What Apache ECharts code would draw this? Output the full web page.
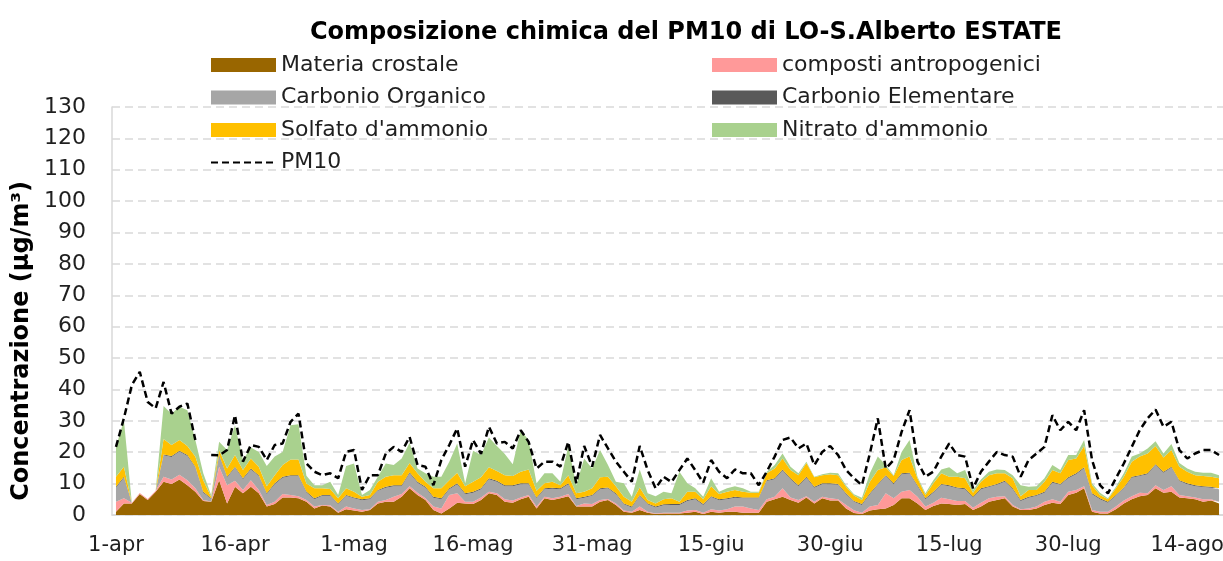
<!DOCTYPE html>
<html>
<head>
<meta charset="utf-8">
<script src="https://cdn.jsdelivr.net/npm/echarts@6/dist/echarts.min.js"></script>
<style>
  html, body { margin: 0; padding: 0; background: #fff; }
  #chart { width: 1223px; height: 561px; }
</style>
</head>
<body>
<div id="chart"></div>
<script>
// mesi e giorni per costruire le etichette giornaliere (1-apr ... 18-ago)
var monthNames = ['apr', 'mag', 'giu', 'lug', 'ago'];
var monthDays = [30, 31, 30, 31, 31];
var nDays = 140;

var crostale = [
  1, 3.7, 3.7, 6.7, 4.8, 7.4, 10.6, 9.9, 11.3, 9.5,
  7.4, 4.5, 4.2, 11.1, 3.7, 9, 6.9, 9, 6.9, 2.7,
  3.5, 5.6, 5.6, 5.3, 4.2, 2.1, 3, 2.7, 0.7, 1.8,
  1.4, 1, 1.6, 3.7, 4.2, 4.2, 5.8, 8.5, 6.4, 4.8,
  1.6, 0.5, 2.1, 3.9, 3.7, 3.5, 4.8, 6.9, 6.4, 4.2,
  3.9, 5, 5.8, 2.1, 5.3, 4.8, 5.3, 6, 2.7, 2.7,
  2.7, 4.2, 4.8, 3.2, 1, 0.7, 1.6, 0.7, 0.3, 0.5,
  0.5, 0.5, 0.7, 1, 0.3, 1, 0.7, 1, 1, 0.7,
  0.7, 0.7, 4.2, 5, 5.8, 4.8, 3.9, 5.6, 3.7, 5.3,
  4.6, 4.6, 2.1, 0.6, 0.3, 1.4, 1.8, 2.1, 3.2, 5.3,
  5.3, 3.7, 1.6, 2.9, 3.7, 3.5, 3.2, 3.5, 1.6, 2.7,
  4.2, 4.8, 5.3, 2.7, 1.6, 1.6, 2.1, 3.2, 3.9, 3.5,
  6.4, 7.1, 8.5, 1, 0.5, 0.5, 1.8, 3.7, 5, 6,
  6.4, 8.5, 7.1, 7.4, 5.6, 5.3, 5, 4.2, 4.6, 3.7
];
var antropogenici = [
  3.2, 1.6, 0.2, 0.3, 0.3, 0.3, 1.6, 1.4, 1.5, 1.6,
  1.1, 0.3, 0.1, 4.3, 5.8, 1.9, 1.1, 2.1, 1.1, 0.5,
  0.7, 1.1, 0.8, 0.7, 0.6, 0.6, 0.2, 0.4, 0.3, 0.9,
  0.7, 0.6, 0.2, 0.5, 0.6, 1.6, 0.9, 0.7, 0.7, 0.5,
  1.1, 1.6, 4.3, 3, 0.5, 0.7, 0.8, 0.5, 0.5, 0.8,
  0.7, 0.6, 0.6, 0.6, 0.5, 0.5, 0.5, 0.7, 0.2, 1,
  0.8, 0.6, 0.3, 0.5, 0.4, 0.3, 1.1, 0.3, 0.2, 0.2,
  0.2, 0.2, 0.7, 0.6, 0.4, 0.8, 0.7, 0.8, 1.7, 2,
  1.4, 0.9, 0.8, 0.8, 2.7, 0.8, 0.9, 0.4, 0.5, 0.5,
  0.7, 0.4, 1.1, 0.9, 0.4, 1.3, 1.4, 4.8, 2.1, 2.1,
  2.7, 2.1, 1.1, 1, 1.8, 1.5, 1.3, 1, 0.7, 1.2,
  1.1, 1, 0.7, 0.5, 0.2, 0.5, 0.6, 1, 1.1, 0.7,
  1, 0.9, 0.7, 0.6, 0.5, 0.5, 0.9, 0.9, 1, 1.1,
  0.5, 1, 0.9, 1.8, 0.8, 0.7, 0.6, 0.8, 0.4, 0.5
];
var carbOrganico = [
  4.5, 6.6, 0, 0, 0, 0, 6.8, 7.2, 7.4, 7.7,
  6.6, 2.3, 0.8, 3.4, 2.4, 4.2, 3.4, 3.4, 4.4, 3.4,
  5.6, 5.2, 6, 6.4, 2.4, 2.3, 2.9, 3, 2.4, 3.4,
  3.2, 3.1, 3.2, 3.5, 3.9, 3.4, 2.5, 4.1, 3.2, 3.4,
  2.8, 2.9, 1.8, 2.9, 2.4, 2.9, 2.6, 4, 3.7, 4.2,
  4.6, 4.2, 3.4, 2.6, 2.4, 3.1, 2.4, 3.1, 2.1, 1.8,
  2.6, 3.4, 3.4, 2.9, 2, 1.4, 3.4, 2.4, 1.9, 2.4,
  2.5, 2.5, 3.1, 3.4, 2.5, 3.9, 3.3, 3.2, 2.8, 2.6,
  3.2, 3.7, 5.8, 5.6, 5.7, 5.8, 4.4, 5.9, 4.5, 4,
  4.5, 4.6, 3.4, 2.7, 2.5, 3.9, 6.4, 5.5, 4.5, 5.6,
  5.2, 3.4, 2.3, 3.2, 4.1, 4.2, 4, 3.7, 3.2, 4.3,
  3.6, 3.8, 4.6, 5, 2.7, 3.4, 3.4, 2.9, 5.3, 5.4,
  4.3, 5, 5.7, 5, 4, 2.9, 3.4, 3.9, 5.9, 5.3,
  6.1, 6.4, 5.5, 5.9, 4.4, 3.8, 3.6, 3.9, 3.7, 4
];
var carbElementare = [
  0.3, 0.3, 0, 0, 0, 0, 0.3, 0.3, 0.3, 0.3,
  0.3, 0.3, 0.2, 0.3, 0.3, 0.3, 0.3, 0.3, 0.3, 0.3,
  0.3, 0.3, 0.3, 0.3, 0.3, 0.3, 0.3, 0.3, 0.3, 0.3,
  0.3, 0.3, 0.3, 0.3, 0.3, 0.3, 0.3, 0.3, 0.3, 0.3,
  0.3, 0.3, 0.3, 0.3, 0.3, 0.3, 0.3, 0.3, 0.3, 0.3,
  0.3, 0.3, 0.3, 0.3, 0.3, 0.3, 0.3, 0.3, 0.3, 0.3,
  0.3, 0.3, 0.3, 0.3, 0.3, 0.3, 0.3, 0.3, 0.3, 0.3,
  0.3, 0.3, 0.3, 0.3, 0.3, 0.3, 0.3, 0.3, 0.3, 0.3,
  0.3, 0.3, 0.3, 0.3, 0.3, 0.3, 0.3, 0.3, 0.3, 0.3,
  0.3, 0.3, 0.3, 0.3, 0.3, 0.3, 0.3, 0.3, 0.3, 0.3,
  0.3, 0.3, 0.3, 0.3, 0.3, 0.3, 0.3, 0.3, 0.3, 0.3,
  0.3, 0.3, 0.3, 0.3, 0.3, 0.3, 0.3, 0.3, 0.3, 0.3,
  0.3, 0.3, 0.3, 0.3, 0.3, 0.3, 0.3, 0.3, 0.3, 0.3,
  0.3, 0.3, 0.3, 0.3, 0.3, 0.3, 0.3, 0.3, 0.3, 0.3
];
var solfato = [
  3.2, 3.2, 0, 0, 0, 0, 4.9, 3.5, 3.4, 2.9,
  3.2, 3.7, 0.4, 1.6, 2.6, 3.7, 2.6, 3.2, 2.7, 2.3,
  2.6, 3.7, 5, 5, 2.5, 3.2, 2.1, 1.9, 1.6, 2.1,
  1.8, 0.8, 1.1, 2.6, 3.2, 3.2, 3.2, 3, 2.7, 1.6,
  2.7, 3.2, 2.6, 3.4, 2.3, 3.2, 3.5, 3.5, 3.1, 3.2,
  2.9, 3.7, 4.4, 2.1, 1.6, 1.9, 1, 2.6, 1.6, 1.6,
  2.1, 3.5, 3.4, 2.3, 2.1, 1.5, 2.4, 1.1, 1, 1.6,
  1.8, 0.7, 2.6, 2.1, 1.5, 3.2, 1.7, 2.1, 2.2, 1.8,
  1.5, 1.5, 2.2, 3.1, 3.5, 2.6, 3.2, 4.4, 3, 2.6,
  2.9, 2.8, 2.1, 1.7, 1.3, 3.7, 4.4, 2.5, 2.3, 4.2,
  5.1, 2.2, 1.1, 2.7, 3.4, 2.7, 3.4, 3.2, 1.3, 2.1,
  3.5, 3.4, 2.4, 3.2, 1.2, 2.2, 1.6, 3.2, 3.7, 3.4,
  5.5, 4.7, 6.8, 2.6, 1.1, 0.8, 2.1, 3.4, 4.8, 5.9,
  6.3, 5.8, 4.5, 5.3, 4.3, 3.7, 3.2, 3.2, 3.2, 3.2
];
var nitrato = [
  9.5, 14.8, 0, 0, 0, 0, 10.5, 10, 10.6, 11.4,
  5.3, 2.2, 0.6, 2.6, 5.9, 9.5, 3.2, 3.5, 4.7, 6.4,
  5.9, 4.2, 10.9, 11.2, 2.5, 1, 1, 2.3, 1.1, 7.1,
  9, 0.6, 1.6, 1.6, 4.2, 3.2, 5.3, 6.4, 1.5, 2.7,
  3.7, 3.7, 5.9, 9.3, 0.9, 9.9, 7.1, 9.5, 8, 6.7,
  3.8, 13.2, 9.4, 2.4, 3.2, 2.7, 1.1, 9.3, 2.6, 10.6,
  6.3, 8.7, 3.7, 1.4, 4.3, 1.6, 5.7, 2.1, 2.3, 2.4,
  1.6, 9.6, 2.7, 1.1, 0.8, 2.5, 0.7, 1.1, 1.2, 1.1,
  0.3, 0.3, 0.5, 1.1, 1.6, 1.1, 0.6, 0.4, 0.2, 0.3,
  0.5, 0.6, 0.5, 0.4, 0.7, 2.7, 4.3, 0.7, 0.3, 2.6,
  5.3, 0.5, 0.5, 1, 1.2, 3, 1.1, 2.6, 0.9, 0.7,
  1.1, 1.2, 1, 1, 3.5, 1, 1.2, 1.1, 1.6, 1,
  1.6, 1.1, 1.9, 0.6, 0.7, 0.3, 0.5, 1.1, 1.6, 1,
  1.6, 1.5, 1.3, 1.9, 1.2, 1, 1.1, 1.1, 1.3, 1
];
var pm10 = [
  21.7, 30.8, 41.4, 45.6, 36, 34, 42.4, 32.3, 34.5, 35.5,
  23.9, null, 19.1, 19, 20.7, 31.8, 17, 22.3, 21.7, 17.5,
  22.3, 22.8, 29.7, 32.3, 16.4, 13.8, 12.7, 13.3, 11.7, 20.1,
  20.7, 8, 12.7, 12.7, 19.6, 21.7, 20.1, 24.9, 15.9, 15.4,
  9.5, 17.5, 22.3, 27.6, 15.4, 23.9, 19.5, 28.1, 22.8, 23.3,
  21.2, 27, 23.3, 14.8, 17, 17, 15.4, 23.3, 10.1, 22,
  15.4, 25.5, 21.2, 17, 13.8, 10.6, 22, 14.3, 8.5, 12.2,
  10.5, 14.3, 18, 14.3, 10.3, 17.5, 13.8, 11.7, 14.5, 13.3,
  13.3, 9.5, 13.8, 18.6, 23.9, 24.7, 21.2, 22.8, 15.9, 20.1,
  22, 19.1, 14.3, 11.7, 9.5, 19.6, 30.8, 14.8, 17.5, 26.5,
  33.4, 17, 12.2, 13.8, 18.6, 22.8, 19.1, 18.6, 8.5, 13.8,
  17, 20.1, 19.1, 18.6, 12.2, 17.5, 19.6, 21.7, 31.8, 27,
  29.7, 27, 33.4, 17.5, 9.5, 6.9, 11.7, 16.4, 21.7, 27,
  30.8, 33.6, 28.1, 29.7, 20.7, 18, 19.6, 20.7, 20.7, 19.1
];

var giorni = [];
for (var m = 0; m < monthNames.length && giorni.length < nDays; m++) {
  for (var d = 1; d <= monthDays[m] && giorni.length < nDays; d++) {
    giorni.push(d + '-' + monthNames[m]);
  }
}

var font = 'DejaVu Sans';
var txt = '#1f1f1f';

function area(name, color, data) {
  return {
    name: name,
    type: 'line',
    stack: 'comp',
    data: data,
    symbol: 'none',
    lineStyle: { width: 0 },
    areaStyle: { color: color, opacity: 1 },
    itemStyle: { color: color }
  };
}

var legendText = { fontFamily: font, fontSize: 22, color: txt, lineHeight: 20 };

var myChart = echarts.init(document.getElementById('chart'), null, { renderer: 'canvas' });
myChart.setOption({
  animation: false,
  textStyle: { fontFamily: font },
  title: {
    text: 'Composizione chimica del PM10 di LO-S.Alberto ESTATE',
    left: 686,
    top: 21,
    padding: 0,
    textAlign: 'center',
    textStyle: { fontFamily: font, fontSize: 24, fontWeight: 'bold', color: '#000' }
  },
  legend: [
    {
      orient: 'vertical',
      left: 205,
      top: 49,
      itemWidth: 65,
      itemHeight: 14,
      itemGap: 10.5,
      textStyle: legendText,
      data: [
        { name: 'Materia crostale', icon: 'rect' },
        { name: 'Carbonio Organico', icon: 'rect' },
        { name: "Solfato d'ammonio", icon: 'rect' },
        { name: 'PM10', itemStyle: { opacity: 0 } }
      ]
    },
    {
      orient: 'vertical',
      left: 707,
      top: 49,
      itemWidth: 65,
      itemHeight: 14,
      itemGap: 10.5,
      textStyle: legendText,
      data: [
        { name: 'composti antropogenici', icon: 'rect' },
        { name: 'Carbonio Elementare', icon: 'rect' },
        { name: "Nitrato d'ammonio", icon: 'rect' }
      ]
    }
  ],
  grid: { left: 112, right: 0, top: 107, bottom: 46, containLabel: false, outerBoundsMode: 'none' },
  xAxis: {
    type: 'category',
    data: giorni,
    boundaryGap: true,
    axisLine: { lineStyle: { color: '#D9D9D9', width: 1.5 } },
    axisTick: { interval: 14, length: 8, lineStyle: { color: '#D9D9D9', width: 1.5 } },
    axisLabel: { interval: 14, margin: 20, fontFamily: font, fontSize: 21, color: txt }
  },
  yAxis: {
    type: 'value',
    min: 0,
    max: 130,
    interval: 10,
    name: 'Concentrazione (µg/m³)',
    nameLocation: 'middle',
    nameRotate: 90,
    nameGap: 78,
    nameMoveOverlap: false,
    nameTextStyle: {
      fontFamily: font, fontSize: 24, fontWeight: 'bold', color: '#000',
      padding: [0, 60, 0, 0]
    },
    axisLine: { show: true, lineStyle: { color: '#D9D9D9', width: 1.5 } },
    axisTick: { show: false },
    axisLabel: { margin: 26, fontFamily: font, fontSize: 22, color: txt },
    splitLine: { lineStyle: { color: '#D9D9D9', width: 1.5, type: [8, 5] } }
  },
  series: [
    area('Materia crostale', '#996600', crostale),
    area('composti antropogenici', '#FF9999', antropogenici),
    area('Carbonio Organico', '#A6A6A6', carbOrganico),
    area('Carbonio Elementare', '#595959', carbElementare),
    area("Solfato d'ammonio", '#FFC000', solfato),
    area("Nitrato d'ammonio", '#A9D18E', nitrato),
    {
      name: 'PM10',
      type: 'line',
      data: pm10,
      symbol: 'none',
      connectNulls: false,
      z: 5,
      lineStyle: { color: '#000', width: 2.5, type: [7, 4] },
      itemStyle: { color: '#000' }
    }
  ]
});
</script>
</body>
</html>
